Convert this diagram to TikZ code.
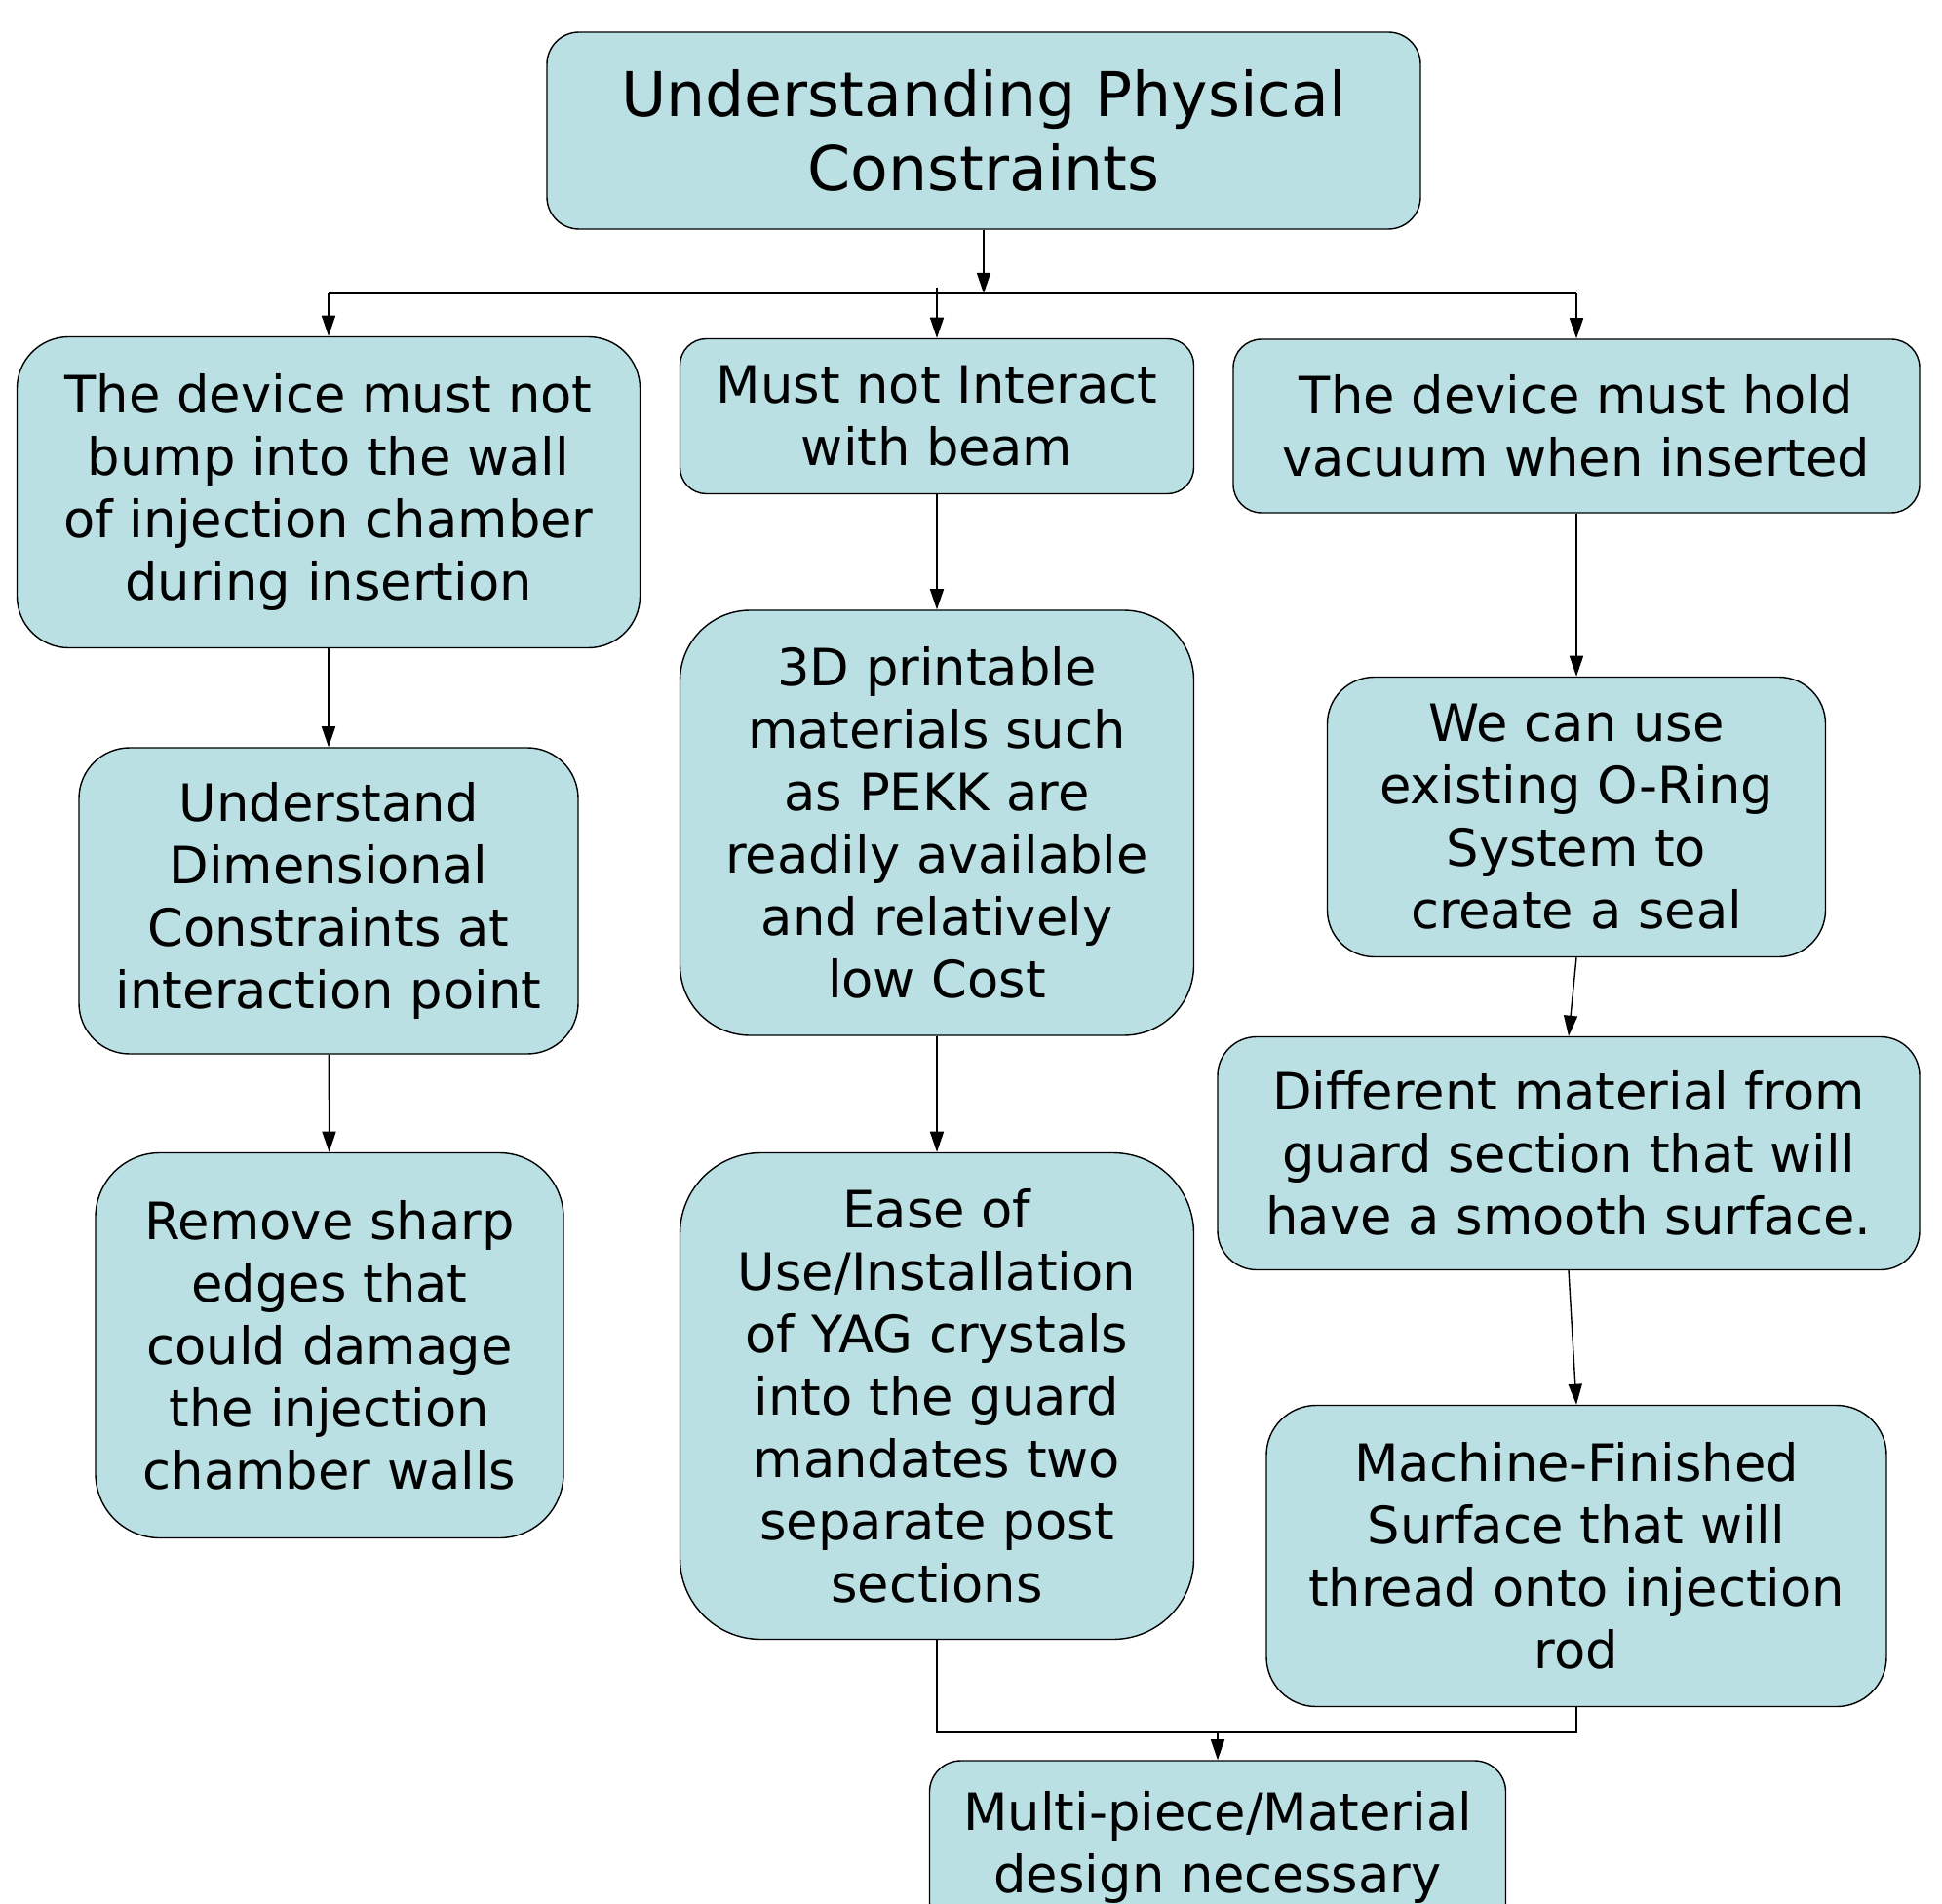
\documentclass[tikz,border=0pt]{standalone}
\usepackage{fontspec}
\setmainfont{DejaVu Sans}
\usetikzlibrary{arrows.meta}
\definecolor{boxfill}{RGB}{187,224,227}
\tikzset{
  box/.style={draw, fill=boxfill, align=center, inner sep=0pt,
    font=\fontsize{15}{18.2}\selectfont},
  link/.style={-{Triangle[length=6pt,width=4pt]}},
}
\begin{document}
\begin{tikzpicture}
                \clip (0,0) rectangle (19.92,-19.526);
                %% top
                \node[box, font=\fontsize{18}{21.7}\selectfont, rounded corners=0.33cm, minimum width=8.96cm, minimum height=2.02cm] (top) at (10.09,-1.34) {Understanding Physical\\Constraints};
                \coordinate (bus) at (0,-3.01);
                %% first row
                \node[box, rounded corners=0.53cm, minimum width=6.39cm, minimum height=3.19cm] (wall) at (3.37,-5.05) {The device must not\\bump into the wall\\of injection chamber\\during insertion};
                \node[box, rounded corners=0.27cm, minimum width=5.27cm, minimum height=1.59cm] (beam) at (9.61,-4.27) {Must not Interact\\with beam};
                \node[box, rounded corners=0.29cm, minimum width=7.04cm, minimum height=1.78cm] (vacuum) at (16.17,-4.37) {The device must hold\\vacuum when inserted};
                \draw[link] (top.south) -- (top.south |- bus);
                \draw (wall.north |- bus) -- (vacuum.north |- bus);
                \draw[link] (wall.north |- bus) -- (wall.north);
                \draw[link] ([yshift=0.06cm]beam.north |- bus) -- (beam.north);
                \draw[link] (vacuum.north |- bus) -- (vacuum.north);
                %% left column
                \node[box, rounded corners=0.52cm, minimum width=5.12cm, minimum height=3.14cm] (dims) at (3.37,-9.24) {Understand\\Dimensional\\Constraints at\\interaction point};
                \node[box, rounded corners=0.66cm, minimum width=4.80cm, minimum height=3.95cm] (edges) at (3.38,-13.80) {Remove sharp\\edges that\\could damage\\the injection\\chamber walls};
                \draw[link] (wall) -- (dims);
                \draw[link] (dims) -- (edges);
                %% middle column
                \node[box, rounded corners=0.72cm, minimum width=5.27cm, minimum height=4.36cm] (pekk) at (9.61,-8.44) {3D printable\\materials such\\as PEKK are\\readily available\\and relatively\\low Cost};
                \node[box, rounded corners=0.83cm, minimum width=5.27cm, minimum height=4.99cm] (yag) at (9.61,-14.32) {Ease of\\Use/Installation\\of YAG crystals\\into the guard\\mandates two\\separate post\\sections};
                \draw[link] (beam) -- (pekk);
                \draw[link] (pekk) -- (yag);
                %% right column
                \node[box, rounded corners=0.48cm, minimum width=5.11cm, minimum height=2.87cm] (oring) at (16.17,-8.38) {We can use\\existing O-Ring\\System to\\create a seal};
                \node[box, rounded corners=0.40cm, minimum width=7.20cm, minimum height=2.39cm] (guard) at (16.09,-11.83) {Different material from\\guard section that will\\have a smooth surface.};
                \node[box, rounded corners=0.51cm, minimum width=6.36cm, minimum height=3.09cm] (thread) at (16.17,-15.96) {Machine-Finished\\Surface that will\\thread onto injection\\rod};
                \draw[link] (vacuum.south) -- (oring.north);
                \draw[link] (oring.south) -- (guard.north);
                \draw[link] (guard.south) -- (thread.north);
                %% bottom
                \node[box, rounded corners=0.32cm, minimum width=5.91cm, minimum height=1.78cm] (multi) at (12.49,-18.95) {Multi-piece/Material\\design necessary};
                \coordinate (join) at (0,-17.77);
                \draw (yag.south) |- (thread.south |- join) -- (thread.south);
                \draw[link] (multi.north |- join) -- (multi.north);
            \end{tikzpicture}
\end{document}
